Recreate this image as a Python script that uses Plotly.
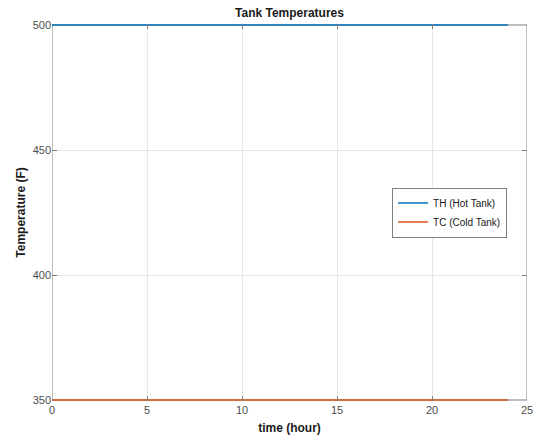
import plotly.graph_objects as go

# Hourly tank temperatures over one day
time_hour = [0, 1, 2, 3, 4, 5, 6, 7, 8, 9, 10, 11, 12, 13, 14, 15, 16, 17, 18, 19, 20, 21, 22, 23, 24]
th_hot = [500] * 25
tc_cold = [350] * 25

x_ticks = [0, 5, 10, 15, 20, 25]
y_ticks = [350, 400, 450, 500]
x_lim = [0, 25]
y_lim = [350, 500]

FONT = "Liberation Sans, Arial, sans-serif"
BOX = "#7f7f7f"

fig = go.Figure()
fig.add_trace(go.Scatter(x=time_hour, y=th_hot, mode="lines", name="TH (Hot Tank)",
                         line=dict(color="#0072BD", width=1.5)))
fig.add_trace(go.Scatter(x=time_hour, y=tc_cold, mode="lines", name="TC (Cold Tank)",
                         line=dict(color="#D95319", width=1.5)))

# axes box drawn under the traces so lines at the limits stay visible
fig.add_shape(type="rect", xref="x", yref="y", x0=x_lim[0], x1=x_lim[1], y0=y_lim[0], y1=y_lim[1],
              line=dict(color=BOX, width=1), fillcolor="rgba(0,0,0,0)", layer="below")

axis_common = dict(
    showline=False, mirror="ticks", zeroline=False, automargin=False,
    ticks="inside", ticklen=5, tickcolor=BOX, tickwidth=1,
    showgrid=True, gridcolor="#e6e6e6", gridwidth=1,
    tickfont=dict(family=FONT, size=11, color="#4d4d4d"),
)

pad = 0.4  # small padding so lines at 350/500 are not clipped

fig.update_layout(
    width=544, height=436,
    margin=dict(l=52, r=17, t=24, b=35),
    paper_bgcolor="white", plot_bgcolor="white",
    title=dict(text="<b>Tank Temperatures</b>", x=(52 + 527) / 2 / 544, xanchor="center",
               y=1 - 13 / 436, yanchor="middle",
               font=dict(family=FONT, size=12, color="#1a1a1a")),
    xaxis=dict(range=x_lim, tickvals=x_ticks, ticklabelstandoff=1,
               title=dict(text="<b>time (hour)</b>", standoff=8,
                          font=dict(family=FONT, size=12, color="#1a1a1a")),
               **axis_common),
    yaxis=dict(range=[y_lim[0] - pad, y_lim[1] + pad], tickvals=y_ticks,
               title=dict(text="<b>Temperature (F)</b>", standoff=4,
                          font=dict(family=FONT, size=12, color="#1a1a1a")),
               **axis_common),
    showlegend=True,
    legend=dict(x=0.716, y=0.5, xanchor="left", yanchor="middle",
                bgcolor="white", bordercolor=BOX, borderwidth=1,
                font=dict(family=FONT, size=10, color="#1a1a1a"),
                tracegroupgap=0, itemwidth=30),
)

fig.write_html("out.html")
